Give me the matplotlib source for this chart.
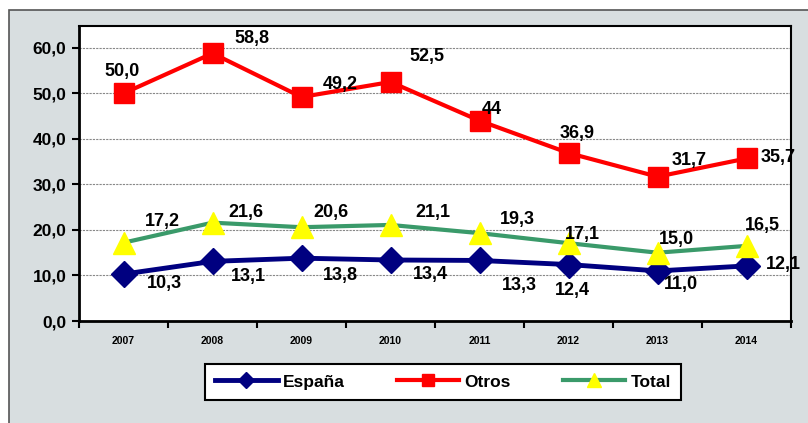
import numpy as np
import matplotlib.pyplot as plt
from matplotlib.patches import Rectangle

plt.rcParams['font.family'] = ['Liberation Sans', 'DejaVu Sans']
plt.rcParams['font.weight'] = 'bold'

# datos
years = ['2007', '2008', '2009', '2010', '2011', '2012', '2013', '2014']
espana = [10.3, 13.1, 13.8, 13.4, 13.3, 12.4, 11.0, 12.1]
otros = [50.0, 58.8, 49.2, 52.5, 44.0, 36.9, 31.7, 35.7]
total = [17.2, 21.6, 20.6, 21.1, 19.3, 17.1, 15.0, 16.5]
lab_espana = ['10,3', '13,1', '13,8', '13,4', '13,3', '12,4', '11,0', '12,1']
lab_otros = ['50,0', '58,8', '49,2', '52,5', '44', '36,9', '31,7', '35,7']
lab_total = ['17,2', '21,6', '20,6', '21,1', '19,3', '17,1', '15,0', '16,5']

# desplazamiento de etiquetas (px)
off_espana = [(41, -9), (36, -15), (39, -17), (40, -15), (40, -25), (4, -26), (23, -14), (37, 1)]
off_otros = [(-1, 22), (39, 15), (39, 13), (36, 25), (12, 11), (9, 20), (32, 16), (32, 1)]
off_total = [(39, 21), (33, 10), (29, 15), (42, 12), (38, 14), (14, 9), (19, 13), (16, 20)]

fig = plt.figure(figsize=(8.08, 4.23), dpi=100)
fig.patches.append(Rectangle((9 / 808, -0.05), 1.0, 1 - 10 / 423 + 0.05,
                             transform=fig.transFigure, facecolor='#D8DEE0',
                             edgecolor='#555555', linewidth=1.2, zorder=-5))

ax = fig.add_axes([79 / 808, 102 / 423, 712 / 808, 295 / 423])
ax.set_facecolor('white')
ax.set_zorder(1)
x = np.arange(len(years))

ax.plot(x, espana, color='#000080', lw=3.5, marker='D', ms=13,
        mfc='#000080', mec='#000080', label='España', zorder=3)
ax.plot(x, otros, color='#FF0000', lw=3, marker='s', ms=14,
        mfc='#FF0000', mec='#FF0000', label='Otros', zorder=3)
ax.plot(x, total, color='#3A9A6A', lw=3, marker='^', ms=16,
        mfc='#FFFF00', mec='#FFFF00', label='Total', zorder=3)

for vals, labs, offs in [(espana, lab_espana, off_espana),
                         (otros, lab_otros, off_otros),
                         (total, lab_total, off_total)]:
    for i, (v, t, o) in enumerate(zip(vals, labs, offs)):
        ax.annotate(t, (x[i], v), xytext=(o[0] * 0.72, o[1] * 0.72),
                    textcoords='offset points', ha='center', va='center',
                    fontsize=13, fontweight='bold', color='black', zorder=4,
                    annotation_clip=False)

ax.set_xlim(-0.5, len(years) - 0.5)
ax.set_ylim(0, 64.8)
ax.set_yticks(np.arange(0, 61, 10))
ax.set_yticklabels([f'{v:.1f}'.replace('.', ',') for v in np.arange(0, 61, 10)],
                   fontsize=12.5, fontweight='bold')
ax.set_xticks(x)
ax.set_xticklabels(years, fontsize=7.5, fontweight='bold')
ax.tick_params(axis='x', length=0, pad=11)
ax.set_xticks(np.arange(-0.5, len(years), 1), minor=True)
ax.tick_params(axis='x', which='minor', length=5, width=1.5, direction='out')
ax.tick_params(axis='y', length=5, width=1.5, direction='out', pad=4)

ax.grid(axis='y', color='#888888', linestyle=(0, (2, 1)), linewidth=0.8)
ax.set_axisbelow(True)
for s in ['left', 'bottom']:
    ax.spines[s].set_linewidth(2)
for s in ['right', 'top']:
    ax.spines[s].set_linewidth(1.5)

leg = fig.legend(loc='center', bbox_to_anchor=(443 / 808, 1 - 382 / 423), ncol=3,
                 frameon=True, fancybox=False, edgecolor='black',
                 facecolor='white', framealpha=1,
                 handlelength=3.6, handletextpad=0.3, columnspacing=3.0,
                 numpoints=1, prop={'weight': 'bold', 'size': 12.5},
                 borderpad=0.6, markerscale=0.6)
leg.get_frame().set_linewidth(1.5)

fig.savefig('out.png', dpi=100)
